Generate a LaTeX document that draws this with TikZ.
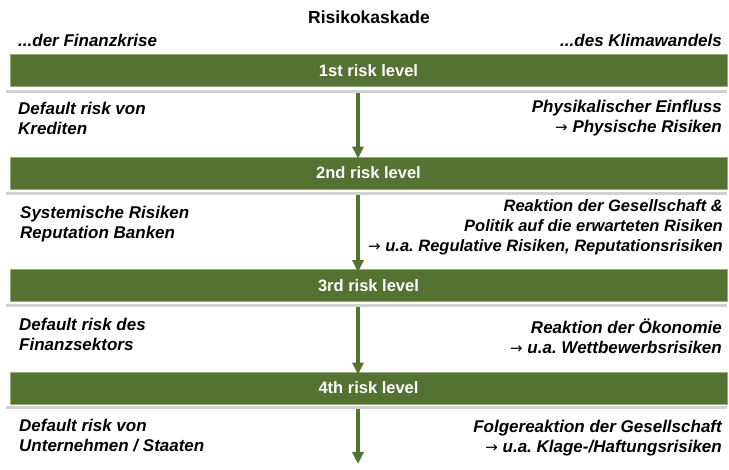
\documentclass[tikz,border=0pt]{standalone}
\usepackage{fontspec}
\setmainfont{Liberation Sans}
\newfontfamily\arrfont{DejaVu Sans}
\usetikzlibrary{arrows.meta}
\definecolor{bargreen}{RGB}{84,114,50}
\definecolor{barrim}{RGB}{150,175,120}
\definecolor{sepgray}{RGB}{210,210,210}
\newcommand{\ra}{{\arrfont\fontsize{15}{18}\selectfont\upshape\mdseries →}}
\frenchspacing
\tikzset{
  riskbar/.style={fill=bargreen, draw=barrim, line width=0.8pt, minimum width=717pt, minimum height=32pt, inner sep=0pt,
    text=white, font=\fontsize{16.5}{19}\selectfont\bfseries},
  sepline/.style={fill=sepgray, draw=none, minimum width=721pt, minimum height=3pt, inner sep=0pt},
  lefttxt/.style={anchor=west, align=left, inner sep=0pt, font=\fontsize{17}{20}\selectfont\bfseries\itshape},
  righttxt/.style={anchor=east, align=right, inner sep=0pt, font=\fontsize{17}{20}\selectfont\bfseries\itshape},
  cascade/.style={draw=bargreen, line width=4.6pt, -{Triangle[width=11pt,length=12pt]}},
}
\begin{document}
\begin{tikzpicture}[x=1pt,y=-1pt]
\useasboundingbox (0,0) rectangle (729,470);
% title and headers
\node[inner sep=0pt, font=\fontsize{17.5}{20}\selectfont\bfseries] (title) at (369,17) {Risikokaskade};
\node[lefttxt] (hl) at (18,40) {...der Finanzkrise};
\node[righttxt] (hr) at (722,40) {...des Klimawandels};
% bars
\node[riskbar] (b1) at (368.5,70.5) {1st risk level};
\node[riskbar] (b2) at (368.5,173) {2nd risk level};
\node[riskbar] (b3) at (368.5,285.5) {3rd risk level};
\node[riskbar] (b4) at (368.5,388) {4th risk level};
% separators
\node[sepline] (g1) at (366.5,92) {};
\node[sepline] (g2) at (366.5,194) {};
\node[sepline] (g3) at (366.5,306) {};
\node[sepline] (g4) at (366.5,408) {};
% arrows
\coordinate (end4) at (358,464);
\draw[cascade] ([xshift=-8.5pt,yshift=1pt]g1.south) -- ([xshift=-10.5pt,yshift=-2pt]b2.north);
\draw[cascade] ([xshift=-8.5pt,yshift=1pt]g2.south) -- ([xshift=-10.5pt,yshift=-3pt]b3.north);
\draw[cascade] ([xshift=-8.5pt,yshift=1pt]g3.south) -- ([xshift=-10.5pt,yshift=-3pt]b4.north);
\draw[cascade] ([xshift=-8.5pt,yshift=1pt]g4.south) -- (end4);
\node[inner sep=0pt, text=barrim, font=\fontsize{16}{20}\selectfont\bfseries] (dots) at (358,473) {...};
% level 1 texts
\node[lefttxt] (l1) at (18,118) {Default risk von\\Krediten};
\node[righttxt] (r1) at (722,118) {Physikalischer Einfluss\\\ra\ Physische Risiken};
% level 2 texts
\node[lefttxt] (l2) at (20,224.5) {Systemische Risiken\\Reputation Banken};
\node[righttxt, font=\fontsize{16.5}{20}\selectfont\bfseries\itshape] (r2) at (723,227) {Reaktion der Gesellschaft \&\\Politik auf die erwarteten Risiken\\\ra\ u.a. Regulative Risiken, Reputationsrisiken};
% level 3 texts
\node[lefttxt] (l3) at (19,334) {Default risk des\\Finanzsektors};
\node[righttxt] (r3) at (722,336) {Reaktion der \"Okonomie\\\ra\ u.a. Wettbewerbsrisiken};
% level 4 texts
\node[lefttxt] (l4) at (19,436) {Default risk von\\Unternehmen / Staaten};
\node[righttxt] (r4) at (722,438) {Folgereaktion der Gesellschaft\\\ra\ u.a. Klage-/Haftungsrisiken};
\end{tikzpicture}
\end{document}
